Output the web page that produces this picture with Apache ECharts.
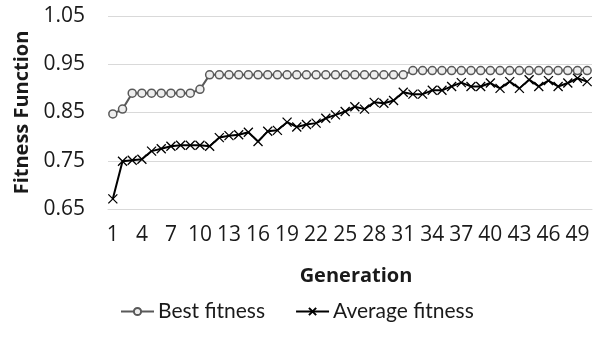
<!DOCTYPE html>
<html>
<head>
<meta charset="utf-8">
<script src="https://cdn.jsdelivr.net/npm/echarts@6/dist/echarts.min.js"></script>
<style>html,body{margin:0;padding:0;background:#fff;}#c{width:597px;height:347px;}</style>
</head>
<body>
<div id="c"></div>
<script>
var generations = [];
for (var g = 1; g <= 50; g++) generations.push(String(g));

var bestFitness = [
  0.847, 0.857, 0.890, 0.890, 0.890, 0.890, 0.890, 0.890, 0.890, 0.898,
  0.928, 0.928, 0.928, 0.928, 0.928, 0.928, 0.928, 0.928, 0.928, 0.928,
  0.928, 0.928, 0.928, 0.928, 0.928, 0.928, 0.928, 0.928, 0.928, 0.928,
  0.928, 0.937, 0.937, 0.937, 0.937, 0.937, 0.937, 0.937, 0.937, 0.937,
  0.937, 0.937, 0.937, 0.937, 0.937, 0.937, 0.937, 0.937, 0.937, 0.937
];

var averageFitness = [
  0.671, 0.749, 0.751, 0.753, 0.770, 0.775, 0.780, 0.782, 0.782, 0.782,
  0.780, 0.798, 0.802, 0.804, 0.809, 0.790, 0.811, 0.813, 0.830, 0.820,
  0.825, 0.828, 0.838, 0.845, 0.852, 0.862, 0.857, 0.871, 0.869, 0.875,
  0.892, 0.888, 0.888, 0.896, 0.896, 0.904, 0.912, 0.904, 0.904, 0.911,
  0.900, 0.914, 0.900, 0.918, 0.904, 0.916, 0.904, 0.911, 0.921, 0.914
];

var yTicks = { min: 0.65, max: 1.05, step: 0.1 };

var FONT = '"Open Sans", "Liberation Sans", sans-serif';
var FONT2 = 'Lato, "Open Sans", sans-serif';
var chart = echarts.init(document.getElementById('c'), null, { renderer: 'canvas' });
chart.setOption({
  animation: false,
  backgroundColor: '#ffffff',
  grid: { left: 108, right: 5, top: 16, bottom: 138, containLabel: false },
  legend: {
    data: ['Best fitness', 'Average fitness'],
    left: 120,
    top: 301,
    padding: 0,
    itemWidth: 33,
    itemHeight: 9,
    itemGap: 30,
    textStyle: { fontFamily: FONT2, fontSize: 21, color: '#1a1a1a', padding: [0, 0, 0, -1] }
  },
  xAxis: {
    type: 'category',
    data: generations,
    boundaryGap: true,
    name: 'Generation',
    nameLocation: 'middle',
    nameGap: 57,
    nameTextStyle: { fontFamily: FONT, fontSize: 20, fontWeight: 'bold', color: '#1a1a1a', padding: [0, 0, 0, 12] },
    axisLine: { show: true, lineStyle: { color: '#d9d9d9', width: 1 } },
    axisTick: { show: false },
    axisLabel: { interval: 2, fontFamily: FONT, fontSize: 21, color: '#1a1a1a', margin: 16, hideOverlap: false }
  },
  yAxis: {
    type: 'value',
    min: yTicks.min,
    max: yTicks.max,
    interval: yTicks.step,
    name: 'Fitness Function',
    nameLocation: 'middle',
    nameGap: 72,
    nameTextStyle: { fontFamily: FONT, fontSize: 20, fontWeight: 'bold', color: '#1a1a1a' },
    axisLine: { show: false },
    axisTick: { show: false },
    splitLine: { show: true, lineStyle: { color: '#d9d9d9', width: 1 } },
    axisLabel: {
      fontFamily: FONT, fontSize: 21, color: '#1a1a1a', margin: 23,
      formatter: function (v) { return v.toFixed(2); }
    }
  },
  series: [
    {
      name: 'Best fitness',
      type: 'line',
      data: bestFitness,
      symbol: 'circle',
      symbolSize: 8,
      showAllSymbol: true,
      lineStyle: { color: '#595959', width: 2 },
      itemStyle: { color: '#eeeeee', borderColor: '#595959', borderWidth: 1.5 },
      z: 3
    },
    {
      name: 'Average fitness',
      type: 'line',
      data: averageFitness,
      symbol: 'path://M0,0L10,10M0,10L10,0',
      symbolSize: 9,
      showAllSymbol: true,
      lineStyle: { color: '#000000', width: 2 },
      itemStyle: { color: '#000000', borderColor: '#000000', borderWidth: 1.3 },
      z: 2
    }
  ]
});
</script>
</body>
</html>
